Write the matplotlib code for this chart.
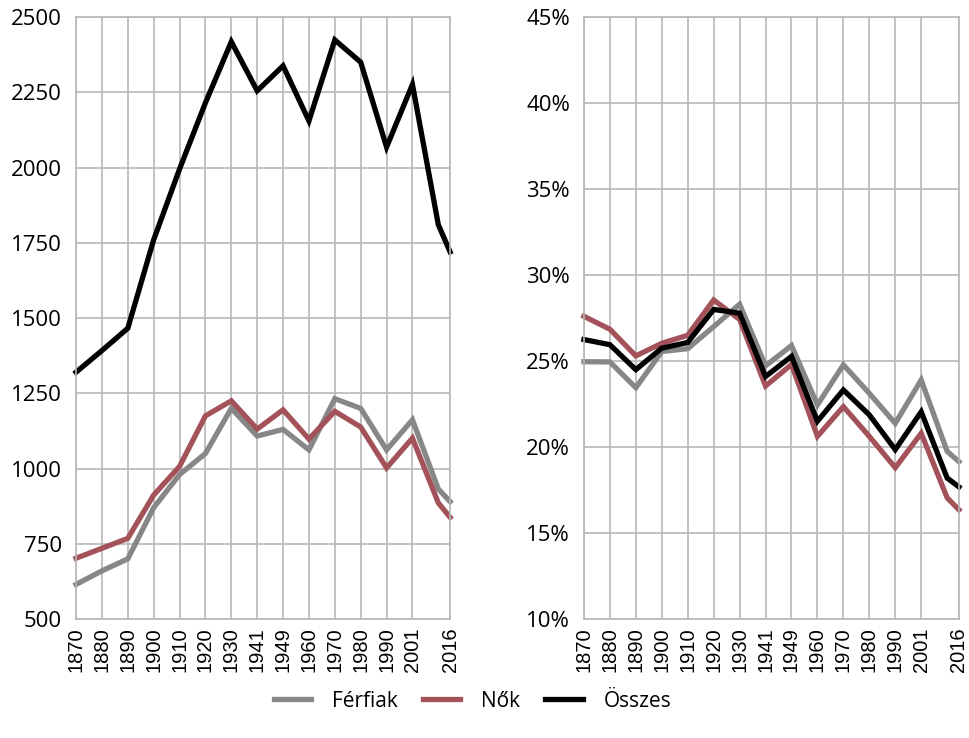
import matplotlib
matplotlib.use("Agg")
import matplotlib.pyplot as plt
from matplotlib.ticker import FuncFormatter

# census years (2011 has no tick label on the original chart)
years = [1870, 1880, 1890, 1900, 1910, 1920, 1930, 1941, 1949,
         1960, 1970, 1980, 1990, 2001, 2011, 2016]
tick_years = [1870, 1880, 1890, 1900, 1910, 1920, 1930, 1941, 1949,
              1960, 1970, 1980, 1990, 2001, 2016]

# left panel: counts
ferfiak = [615, 660, 700, 870, 980, 1050, 1200, 1108, 1130, 1062,
           1232, 1200, 1062, 1162, 932, 890]
nok = [702, 735, 768, 912, 1007, 1175, 1225, 1131, 1195, 1098,
       1190, 1138, 1002, 1101, 886, 838]
osszes = [1320, 1392, 1466, 1760, 1995, 2215, 2418, 2255, 2338, 2155,
          2424, 2350, 2068, 2276, 1810, 1720]

# right panel: percentages
ferfiak_pct = [24.96, 24.95, 23.45, 25.55, 25.72, 27.0, 28.3, 24.72, 25.9,
               22.45, 24.78, 23.12, 21.38, 23.9, 19.75, 19.15]
nok_pct = [27.6, 26.85, 25.3, 26.03, 26.5, 28.55, 27.42, 23.55, 24.8,
           20.62, 22.35, 20.62, 18.8, 20.8, 17.05, 16.35]
osszes_pct = [26.25, 25.95, 24.5, 25.75, 26.08, 28.0, 27.78, 24.1, 25.27,
              21.5, 23.32, 21.87, 19.85, 22.05, 18.2, 17.68]

GRAY = "#878787"
RED = "#a3525a"
BLACK = "#000000"
GRID = "#b7b7b7"


def xpos(y):
    """Category positions: one step per census, 2016 comes after 2011"""
    if y <= 2011:
        return years.index(y)
    return years.index(2011) + (y - 2011) / 11


def style_axes(ax):
    xs = [xpos(y) for y in tick_years]
    ax.set_xticks(xs)
    ax.set_xticklabels([str(y) for y in tick_years], rotation=90,
                       family="Liberation Sans", fontsize=14.5)
    ax.set_xlim(0, xpos(2016))
    ax.grid(True, color=GRID, linewidth=1.2)
    ax.set_axisbelow(True)
    ax.tick_params(length=0, pad=6)
    ax.tick_params(axis="y", labelsize=16, pad=10)
    for lab in ax.get_yticklabels():
        lab.set_family("Open Sans")
    for sp in ax.spines.values():
        sp.set_color(GRID)
        sp.set_linewidth(1.2)


def plot_panel(ax, series):
    xs = [xpos(y) for y in years]
    for values, color, label in series:
        ax.plot(xs, values, color=color, linewidth=3.8, label=label,
                solid_joinstyle="miter", clip_on=False)


def main():
    fig = plt.figure(figsize=(9.7, 7.38), dpi=100)
    ax1 = fig.add_axes([0.0784, 0.1612, 0.3856, 0.8157])
    ax2 = fig.add_axes([0.602, 0.1612, 0.3866, 0.8157])

    plot_panel(ax1, [(ferfiak, GRAY, "Férfiak"), (nok, RED, "Nők"),
                     (osszes, BLACK, "Összes")])
    ax1.set_ylim(500, 2500)
    ax1.set_yticks(range(500, 2501, 250))

    plot_panel(ax2, [(ferfiak_pct, GRAY, "Férfiak"), (nok_pct, RED, "Nők"),
                     (osszes_pct, BLACK, "Összes")])
    ax2.set_ylim(10, 45)
    ax2.set_yticks(range(10, 46, 5))
    ax2.yaxis.set_major_formatter(FuncFormatter(lambda v, p: f"{v:.0f}%"))

    style_axes(ax1)
    style_axes(ax2)

    handles, labels = ax1.get_legend_handles_labels()
    fig.legend(handles, labels, loc="center", bbox_to_anchor=(0.487, 0.05),
               ncol=3, frameon=False, handlelength=1.8, handletextpad=1.0,
               columnspacing=1.2, prop={"family": "Open Sans", "size": 15})

    fig.savefig("out.png", dpi=100)


if __name__ == "__main__":
    main()
